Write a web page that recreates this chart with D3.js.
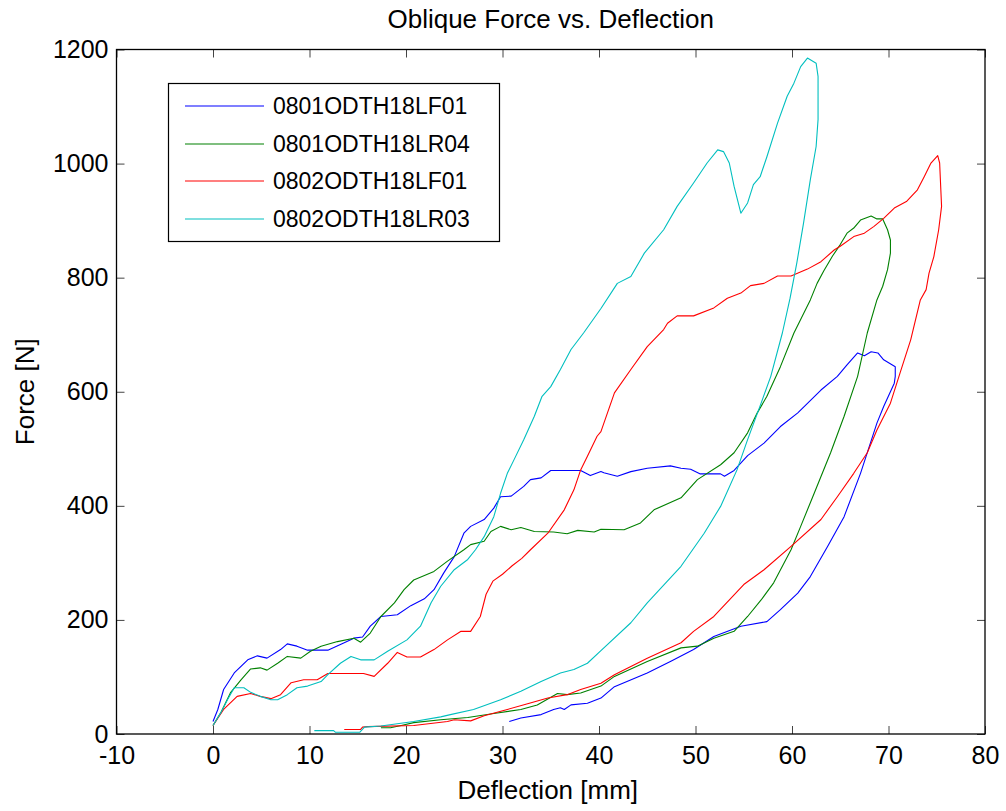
<!DOCTYPE html>
<html>
<head>
<meta charset="utf-8">
<script src="https://cdn.jsdelivr.net/npm/d3@7"></script>
<style>
  body { margin: 0; background: #fff; }
  svg text { font-family: "Liberation Sans", Arial, Helvetica, sans-serif; fill: #000; }
</style>
</head>
<body>
<div id="chart"></div>
<script>
var _width = 1006;
var _height = 811;

// axis ticks
var xTicks = [-10, 0, 10, 20, 30, 40, 50, 60, 70, 80];
var yTicks = [0, 200, 400, 600, 800, 1000, 1200];

var seriesNames = ["0801ODTH18LF01", "0801ODTH18LR04", "0802ODTH18LF01", "0802ODTH18LR03"];
var seriesColors = ["#0000ff", "#008000", "#ff0000", "#00bfbf"];

// 0801ODTH18LF01 (deflection mm, force N) - load then unload
var lf01Defl = [0, 0.5, 1.1, 2.2, 3.6, 4.6, 5.6, 7, 7.7, 8.7, 9.8, 11.9, 13.6, 14.6, 15.5, 16.3, 17.4, 19.1, 20.5, 21.9, 22.9, 23.9, 25, 26, 26.7, 28.1, 29.1, 29.8, 30.9, 32.2, 32.9, 34, 35, 38.1, 39.1, 40.2, 40.5, 41.9, 43.3, 45, 47.4, 48.5, 49.5, 50.5, 52.6, 53, 54, 55.4, 57.1, 58.8, 60.6, 63, 64.7, 65.7, 66.8, 67.5, 68.2, 68.9, 69.5, 70.7, 70.7,
  70.6, 69.5, 68.8, 67.1, 65.4, 63.7, 61.9, 60.6, 58.8, 57.4, 54.7, 51.9, 49.8, 47.5, 45, 41.6, 40.2, 38.8, 37.1, 36.4, 36, 35.3, 34, 31.9, 30.7];
var lf01Force = [22, 43, 78, 107, 130, 137, 133, 148, 158, 154, 147, 147, 160, 168, 170, 189, 206, 209, 225, 237, 253, 282, 311, 352, 364, 376, 396, 416, 417, 434, 446, 449, 462, 462, 453, 460, 458, 452, 460, 466, 470, 466, 464, 456, 456, 452, 462, 488, 510, 539, 563, 603, 627, 647, 668, 663, 670, 668, 656, 644, 627,
  615, 574, 545, 457, 381, 329, 276, 247, 218, 197, 189, 171, 148, 128, 107, 83, 63, 54, 51, 43, 46, 43, 34, 28, 22];

// 0801ODTH18LR04
var lr04Defl = [0, 0.8, 1.8, 2.9, 3.9, 4.9, 5.6, 6.7, 7.7, 9.1, 10.1, 11.2, 12.9, 14.6, 15.3, 16.3, 17.4, 18.8, 19.8, 20.8, 22.9, 24.3, 26, 26.7, 28.1, 28.8, 29.8, 30.9, 31.9, 33.3, 35.3, 36.7, 37.8, 39.5, 40.2, 42.6, 44.3, 45.7, 48.5, 50.2, 52.6, 54, 55.4, 56.4, 57.4, 58.8, 60.2, 61.9, 62.6, 63.3, 64.2, 65, 65.7, 66.4, 67.1, 68.2, 68.8, 69.4, 69.9, 70.2, 70.2, 69.9, 69.4,
  68.8, 67.8, 66.8, 65.4, 64, 62.3, 60.9, 59.9, 58.1, 56.8, 55.4, 54, 51.9, 50.2, 48.5, 45, 41.6, 40.2, 38.1, 36.7, 35.7, 33.6, 31.9, 29.1, 26.4, 23.6, 20.8, 19.5, 18.4, 17.4];
var lr04Force = [15, 37, 72, 95, 114, 116, 112, 124, 136, 133, 145, 154, 162, 168, 161, 177, 206, 230, 253, 270, 285, 303, 323, 332, 338, 355, 364, 358, 362, 355, 354, 351, 357, 354, 359, 358, 370, 393, 414, 446, 472, 493, 528, 563, 592, 644, 703, 761, 790, 812, 838, 858, 878, 887, 901, 908, 903, 903, 884, 866, 843, 814, 785,
  761, 703, 627, 557, 493, 422, 364, 323, 265, 235, 206, 180, 168, 154, 151, 127, 101, 84, 72, 69, 71, 51, 43, 36, 29, 25, 20, 15, 11, 11];

// 0802ODTH18LF01
var lf01bDefl = [0, 1.1, 2.5, 3.9, 4.9, 6, 7, 8.1, 9.4, 10.8, 11.9, 15.6, 16.7, 18.1, 19.1, 20.1, 21.5, 22.9, 24.3, 25.7, 26.7, 27.7, 28.3, 29, 30, 31, 32, 32.9, 34.7, 36.4, 37.4, 38.1, 38.8, 39.8, 40.2, 41.6, 43.3, 45, 46.7, 47.1, 48.1, 49.8, 51.9, 53.3, 54.7, 55.7, 57.1, 58.5, 59.9, 61.6, 63, 64.4, 65, 66.4, 67.5, 68.5, 69.5, 70.6, 71.9, 73, 73.7, 74.4, 75.1, 75.3, 75.5, 75.2, 74.7, 74.2, 73.9,
  73.3, 72.3, 71.2, 70.2, 68.8, 67.8, 66.4, 64.7, 63, 59.9, 57.1, 55, 51.9, 49.8, 48.5, 45, 41.6, 40.2, 38.1, 36.7, 34.7, 32.6, 30.5, 28.1, 26.7, 25, 24.3, 20.8, 16, 15.5, 15.3, 13.6];
var lf01bForce = [15, 43, 66, 71, 66, 62, 69, 90, 95, 95, 106, 106, 101, 124, 143, 135, 135, 148, 165, 180, 180, 206, 245, 268, 280, 295, 308, 323, 352, 393, 428, 463, 487, 522, 530, 598, 639, 679, 709, 720, 733, 733, 747, 764, 773, 786, 790, 803, 803, 815, 828, 849, 855, 872, 878, 890, 904, 922, 934, 954, 977, 1001, 1014, 1001, 925, 884, 837, 808, 779,
  761, 691, 633, 580, 533, 493, 457, 416, 376, 329, 288, 262, 206, 180, 160, 133, 104, 89, 78, 69, 63, 53, 43, 32, 23, 25, 22, 15, 13, 12, 8, 8];

// 0802ODTH18LR03
var lr03Defl = [0, 0.8, 1.5, 2.2, 3.2, 3.9, 4.9, 6, 6.7, 7.7, 8.7, 9.8, 11.2, 11.9, 13.2, 14.3, 15.3, 16.7, 18.1, 20.1, 21.5, 22.6, 23.6, 25, 26.4, 27.2, 28.1, 29.1, 29.8, 30.5, 31.2, 32.2, 33.3, 34.1, 35, 36, 37.1, 38.4, 40.2, 41.9, 43.3, 44.7, 46.7, 48.1, 49.8, 51.2, 52.3, 52.9, 53.5, 54, 54.7, 55.4, 56, 56.7, 57.4, 58.5, 59.5, 60.2, 60.9, 61.6, 62.5, 62.7, 62.7, 62.5, 61.9, 61.2, 60.5,
  59.8, 59, 57.8, 56.8, 55.4, 54.3, 52.6, 50.9, 48.5, 45, 43.3, 40.2, 38.8, 37.4, 36, 34, 31.9, 29.8, 27, 24.6, 23.6, 20.8, 17.4, 15.7, 15.2, 12.7, 12.5, 10.5];
var lr03Force = [15, 37, 60, 81, 81, 73, 66, 60, 60, 69, 81, 84, 92, 104, 124, 136, 130, 130, 145, 165, 189, 230, 259, 288, 306, 323, 346, 381, 422, 457, 481, 516, 557, 592, 609, 639, 674, 703, 746, 790, 802, 843, 884, 925, 966, 1001, 1024, 1021, 1001, 960, 913, 931, 963, 977, 1012, 1071, 1118, 1141, 1170, 1185, 1176, 1153, 1077, 1030, 972, 896, 826,
  764, 703, 627, 580, 516, 463, 399, 352, 294, 230, 195, 146, 124, 113, 107, 92, 75, 60, 43, 34, 30, 22, 14, 12, 3, 3, 6, 6];

var seriesDefl = [lf01Defl, lr04Defl, lf01bDefl, lr03Defl];
var seriesForce = [lf01Force, lr04Force, lf01bForce, lr03Force];

var _left = 116.5, _right = 985, _top = 49.5, _bottom = 734;

var svg = d3.select("#chart").append("svg")
    .attr("width", _width)
    .attr("height", _height);

svg.append("rect").attr("width", _width).attr("height", _height).attr("fill", "#fff");

var x = d3.scaleLinear().domain([-10, 80]).range([_left, _right]);
var y = d3.scaleLinear().domain([0, 1200]).range([_bottom, _top]);

// the curves
var line = d3.line()
    .x(function (d) { return x(d[0]); })
    .y(function (d) { return y(d[1]); });

var plot = svg.append("g");
for (var i = 0; i < seriesNames.length; i++) {
    var pts = seriesDefl[i].map(function (v, j) { return [v, seriesForce[i][j]]; });
    plot.append("path")
        .datum(pts)
        .attr("d", line)
        .attr("fill", "none")
        .attr("stroke", seriesColors[i])
        .attr("stroke-width", 1.1)
        .attr("stroke-linejoin", "round");
}

// axes: ticks point inward on all four sides, plain hyphen for minus
var fs = "25px";
var plain = function (d) { return String(d); };
var gx = svg.append("g").attr("transform", "translate(0," + _bottom + ")")
    .call(d3.axisBottom(x).tickValues(xTicks).tickSize(-8).tickPadding(12).tickFormat(plain));
var gy = svg.append("g").attr("transform", "translate(" + _left + ",0)")
    .call(d3.axisLeft(y).tickValues(yTicks).tickSize(-8).tickPadding(8).tickFormat(plain));
var gt = svg.append("g").attr("transform", "translate(0," + _top + ")")
    .call(d3.axisTop(x).tickValues(xTicks).tickSize(-8).tickFormat(""));
var gr = svg.append("g").attr("transform", "translate(" + _right + ",0)")
    .call(d3.axisRight(y).tickValues(yTicks).tickSize(-8).tickFormat(""));

[gx, gy, gt, gr].forEach(function (g) {
    g.select(".domain").remove();
    g.selectAll(".tick line").attr("stroke", "#444").attr("stroke-width", 1);
    g.selectAll(".tick text").style("font-size", fs).attr("fill", "#000");
    g.attr("font-family", null);
});

svg.append("rect")
    .attr("x", _left).attr("y", _top)
    .attr("width", _right - _left).attr("height", _bottom - _top)
    .attr("fill", "none").attr("stroke", "#000").attr("stroke-width", 1.3);

// titles
svg.append("text")
    .attr("x", (_left + _right) / 2).attr("y", 28)
    .attr("text-anchor", "middle").style("font-size", "26px")
    .text("Oblique Force vs. Deflection");

svg.append("text")
    .attr("x", (_left + _right) / 2 - 3).attr("y", 799)
    .attr("text-anchor", "middle").style("font-size", "26px")
    .text("Deflection [mm]");

svg.append("text")
    .attr("transform", "translate(34," + (_top + _bottom) / 2 + ") rotate(-90)")
    .attr("text-anchor", "middle").style("font-size", "26px")
    .text("Force [N]");

// legend
var leg = svg.append("g");
leg.append("rect")
    .attr("x", 168.5).attr("y", 83.5).attr("width", 331).attr("height", 158)
    .attr("fill", "#fff").attr("stroke", "#000").attr("stroke-width", 1.2);
var legY = [106, 144, 181, 219];
seriesNames.forEach(function (n, k) {
    leg.append("line")
        .attr("x1", 185).attr("x2", 264)
        .attr("y1", legY[k]).attr("y2", legY[k])
        .attr("stroke", seriesColors[k]).attr("stroke-width", 1.1);
    leg.append("text")
        .attr("x", 273).attr("y", legY[k]).attr("dy", "0.35em")
        .style("font-size", "23px")
        .text(n);
});
</script>
</body>
</html>
